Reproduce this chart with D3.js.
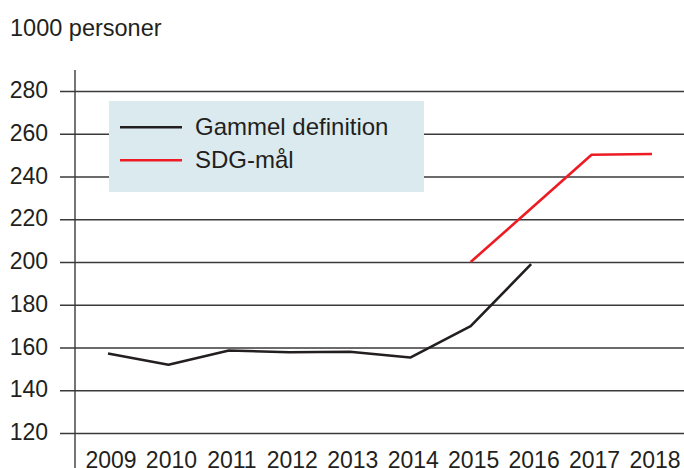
<!DOCTYPE html>
<html>
<head>
<meta charset="utf-8">
<script src="https://cdn.jsdelivr.net/npm/d3@7"></script>
<style>
  body { margin: 0; background: #fff; }
  text { font-family: "Liberation Sans", Arial, Helvetica, sans-serif; fill: #231f20; }
</style>
</head>
<body>
<svg id="chart"></svg>
<script>
var years = [2009, 2010, 2011, 2012, 2013, 2014, 2015, 2016, 2017, 2018];
var gammel = [157.2, 151.9, 158.6, 157.8, 158.0, 155.3, 170.0, 199.0, null, null];
var sdg = [null, null, null, null, null, null, 200.0, 225.0, 250.2, 250.5];
var yTicks = [120, 140, 160, 180, 200, 220, 240, 260, 280];
var seriesNames = ["Gammel definition", "SDG-mål"];
var seriesColors = ["#231f20", "#ed1c24"];

var width = 684, height = 468;

var svg = d3.select("#chart")
  .attr("width", width)
  .attr("height", height);

var x = d3.scaleLinear().domain([2009, 2018]).range([108, 652]);
var y = d3.scaleLinear().domain([120, 280]).range([433, 91]);

// unit label
svg.append("text")
  .attr("x", 10)
  .attr("y", 36)
  .style("font-size", "23.5px")
  .text("1000 personer");

// gridlines + y axis ticks
var yAxis = d3.axisLeft(y)
  .tickValues(yTicks)
  .tickSize(-(width - 75))
  .tickPadding(0)
  .tickFormat(d3.format("d"));

var gy = svg.append("g")
  .attr("transform", "translate(75,0)")
  .call(yAxis);
gy.select(".domain").remove();
gy.selectAll(".tick line")
  .attr("x1", -15)
  .attr("stroke", "#3a3a3a")
  .attr("stroke-width", 1.4);
gy.selectAll(".tick text")
  .attr("x", -27)
  .attr("dy", null)
  .attr("y", 6.5)
  .style("font-size", "23px")
  .attr("fill", "#231f20");

// vertical axis line
svg.append("line")
  .attr("x1", 75).attr("x2", 75)
  .attr("y1", 70).attr("y2", height)
  .attr("stroke", "#3a3a3a")
  .attr("stroke-width", 1.4);

// x labels
svg.append("g").selectAll("text")
  .data(years)
  .enter()
  .append("text")
  .attr("x", function(d) { return x(d) + 3; })
  .attr("y", 467.5)
  .attr("text-anchor", "middle")
  .style("font-size", "23px")
  .text(function(d) { return d; });

// legend box
svg.append("rect")
  .attr("x", 109).attr("y", 101)
  .attr("width", 315).attr("height", 91)
  .attr("fill", "#dbeaee");

var legend = svg.append("g").selectAll("g")
  .data(seriesNames)
  .enter()
  .append("g")
  .attr("transform", function(d, i) { return "translate(0," + (127.3 + i * 33) + ")"; });
legend.append("line")
  .attr("x1", 120).attr("x2", 182)
  .attr("stroke", function(d, i) { return seriesColors[i]; })
  .attr("stroke-width", 2.4);
legend.append("text")
  .attr("x", 195)
  .attr("y", 8)
  .style("font-size", "24px")
  .text(function(d) { return d; });

// lines
var line = d3.line()
  .defined(function(d) { return d.v != null; })
  .x(function(d) { return x(d.year); })
  .y(function(d) { return y(d.v); });

[gammel, sdg].forEach(function(vals, i) {
  var data = years.map(function(yr, j) { return { year: yr, v: vals[j] }; });
  svg.append("path")
    .datum(data)
    .attr("fill", "none")
    .attr("stroke", seriesColors[i])
    .attr("stroke-width", 2.6)
    .attr("stroke-linejoin", "round")
    .attr("d", line);
});
</script>
</body>
</html>
